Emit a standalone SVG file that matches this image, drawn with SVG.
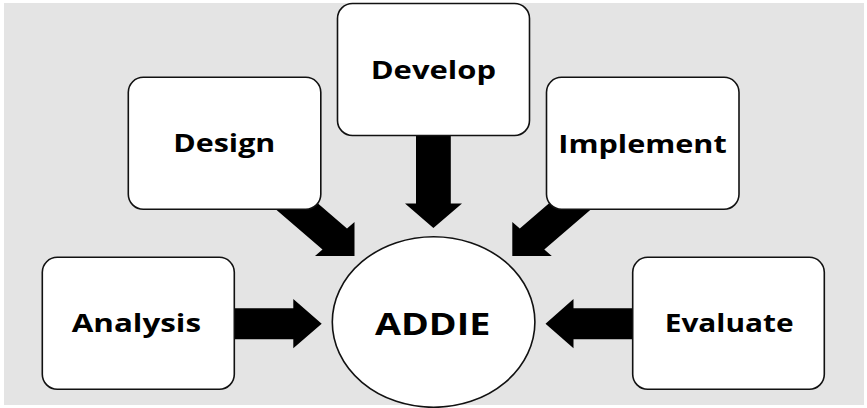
<svg xmlns="http://www.w3.org/2000/svg" width="867" height="408" viewBox="0 0 867 408">
  <style>
    .box { fill: #ffffff; stroke: #111111; stroke-width: 1.6; }
    .lbl { font-family: "Open Sans", "Noto Sans", "Liberation Sans", sans-serif; font-weight: bold; font-size: 25.6px; fill: #000000; }
    .big { font-size: 31px; }
    .arrow { fill: #000000; stroke: none; }
  </style>
  <rect x="0" y="0" width="867" height="408" fill="#ffffff"/>
  <rect x="4" y="3" width="860" height="402" fill="#e4e4e4"/>

  <g id="connectors">
    <polygon class="arrow" points="225,308.3 293.3,308.3 293.3,299 321.7,323.7 293.3,348.3 293.3,339.3 225,339.3"/>
    <polygon class="arrow" points="640,308.3 573.5,308.3 573.5,299 545.5,323.7 573.5,348.3 573.5,339.3 640,339.3"/>
    <polygon class="arrow" points="416,125 450.8,125 450.8,203.5 462,203.5 433.4,228 405,203.5 416,203.5"/>
    <polygon class="arrow" points="308.1,195 347,228.5 354.5,222 354.5,256 315,256 322.5,249.5 259.1,195"/>
    <polygon class="arrow" points="558.7,195 519.8,228.5 512.3,222 512.3,256 551.8,256 544.3,249.5 607.7,195"/>
  </g>

  <g id="node-design">
    <rect class="box" x="128.3" y="77.3" width="192.5" height="132" rx="15" ry="15"/>
    <text class="lbl" x="173.3" y="152.3" textLength="102" lengthAdjust="spacingAndGlyphs">Design</text>
  </g>
  <g id="node-develop">
    <rect class="box" x="337.5" y="3.5" width="192" height="132" rx="15" ry="15"/>
    <text class="lbl" x="370.7" y="79" textLength="125.3" lengthAdjust="spacingAndGlyphs">Develop</text>
  </g>
  <g id="node-implement">
    <rect class="box" x="546.5" y="77.3" width="192.5" height="132" rx="15" ry="15"/>
    <text class="lbl" x="558.3" y="152.7" textLength="168.4" lengthAdjust="spacingAndGlyphs">Implement</text>
  </g>
  <g id="node-analysis">
    <rect class="box" x="42.3" y="257.3" width="192" height="132" rx="15" ry="15"/>
    <text class="lbl" x="71.7" y="331.7" textLength="129.3" lengthAdjust="spacingAndGlyphs">Analysis</text>
  </g>
  <g id="node-evaluate">
    <rect class="box" x="632.7" y="257.3" width="191.6" height="132" rx="15" ry="15"/>
    <text class="lbl" x="664.7" y="332.3" textLength="129" lengthAdjust="spacingAndGlyphs">Evaluate</text>
  </g>
  <g id="node-addie">
    <ellipse class="box" cx="433.6" cy="322" rx="101.3" ry="85.3"/>
    <text class="lbl big" x="375" y="335" textLength="115.3" lengthAdjust="spacingAndGlyphs">ADDIE</text>
  </g>
</svg>
